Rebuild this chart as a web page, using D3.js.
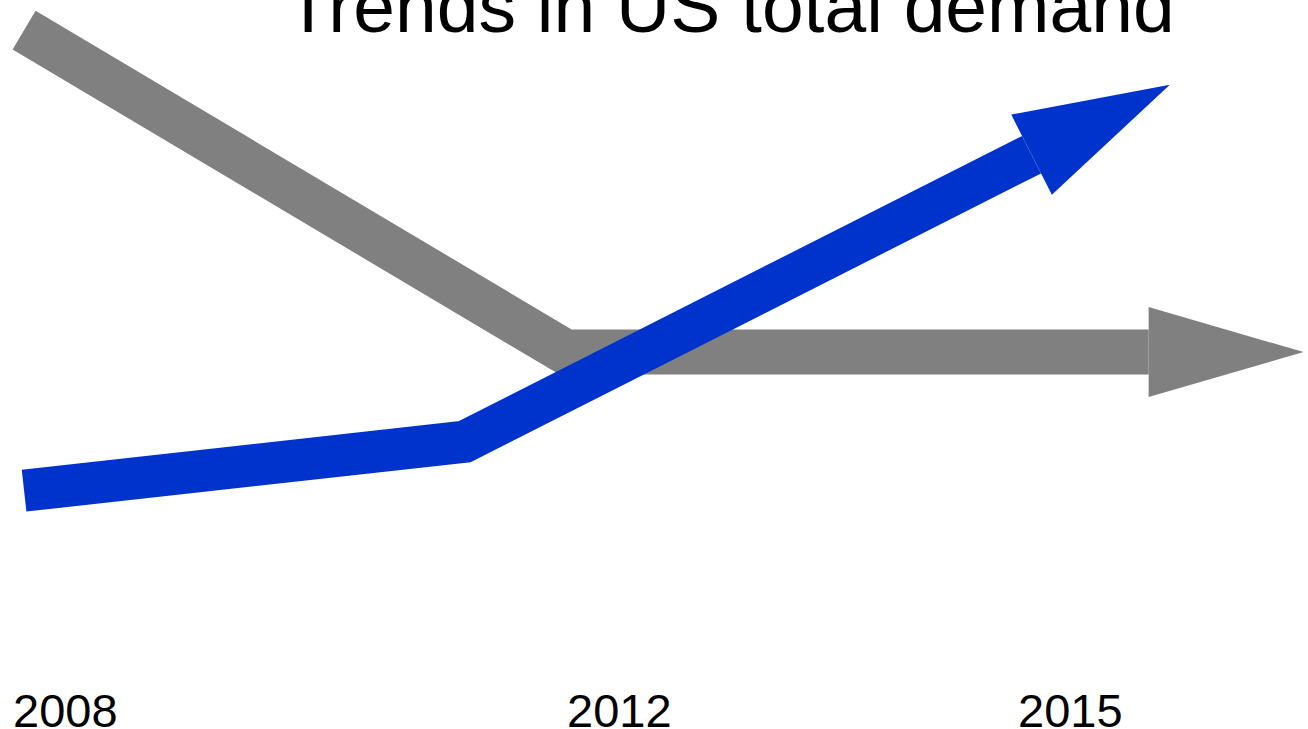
<!DOCTYPE html>
<html>
<head>
<meta charset="utf-8">
<script src="https://cdn.jsdelivr.net/npm/d3@7"></script>
<style>
  html, body { margin: 0; padding: 0; background: #fff; }
  svg { display: block; font-family: "Liberation Sans", Arial, sans-serif; }
</style>
</head>
<body>
<svg id="chart" width="1308" height="729"></svg>
<script>
// Dữ liệu (năm, chỉ số tương đối)
const title = "Trends in US total demand";
const tickYears = [2008, 2012, 2015];
const grayYears = [2008.08, 2011.99, 2016.9];
const grayValues = [95.7, 49.7, 49.7];
const blueYears = [2008.08, 2011.26, 2016.01];
const blueValues = [29.9, 36.9, 87.9];

const svg = d3.select("#chart");
const W = +svg.attr("width");
const H = +svg.attr("height");

// Thang đo: trục năm không đều nên dùng scale nhiều đoạn
const x = d3.scaleLinear()
  .domain(tickYears)
  .range([13, 567, 1018]);

const y = d3.scaleLinear()
  .domain([0, 100])
  .range([700, 0]);

const series = [
  { years: grayYears, values: grayValues, color: "#808080", width: 45 },
  { years: blueYears, values: blueValues, color: "#0033cc", width: 42 }
];

const headLen = 155;
const headW = 90;

series.forEach(s => {
  const pts = s.years.map((yr, i) => [x(yr), y(s.values[i])]);
  const tip = pts[pts.length - 1];
  const prev = pts[pts.length - 2];
  const dx = tip[0] - prev[0], dy = tip[1] - prev[1];
  const len = Math.hypot(dx, dy);
  const ux = dx / len, uy = dy / len;
  const base = [tip[0] - ux * headLen, tip[1] - uy * headLen];
  const nx = -uy, ny = ux;

  // thân mũi tên
  const shaft = pts.slice(0, -1).concat([base]);
  svg.append("path")
    .attr("d", d3.line()(shaft))
    .attr("fill", "none")
    .attr("stroke", s.color)
    .attr("stroke-width", s.width)
    .attr("stroke-linejoin", "miter")
    .attr("stroke-linecap", "butt");

  // đầu mũi tên
  const head = [
    [base[0] + nx * headW / 2, base[1] + ny * headW / 2],
    tip,
    [base[0] - nx * headW / 2, base[1] - ny * headW / 2]
  ];
  svg.append("path")
    .attr("d", d3.line()(head) + "Z")
    .attr("fill", s.color);
});

// Nhãn năm
svg.selectAll("text.year")
  .data(tickYears)
  .enter()
  .append("text")
  .attr("class", "year")
  .attr("x", d => x(d))
  .attr("y", 727)
  .attr("text-anchor", "start")
  .style("font-size", "47px")
  .style("fill", "#000")
  .text(d => d);

// Tiêu đề (bị cắt ở mép trên)
svg.append("text")
  .attr("x", 730)
  .attr("y", 32)
  .attr("text-anchor", "middle")
  .style("font-size", "75px")
  .style("fill", "#000")
  .text(title);
</script>
</body>
</html>
